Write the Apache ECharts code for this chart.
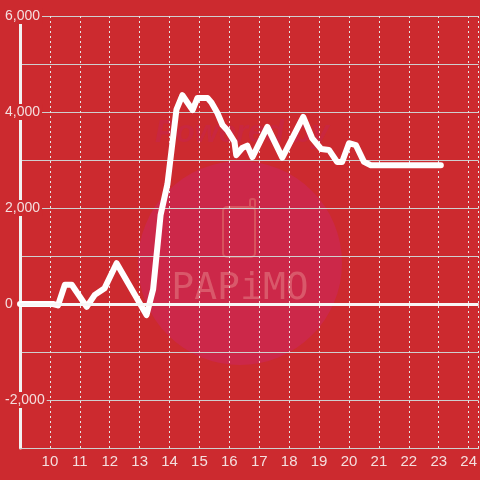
<!DOCTYPE html>
<html>
<head>
<meta charset="utf-8">
<script src="https://cdn.jsdelivr.net/npm/echarts@6/dist/echarts.min.js"></script>
<style>
  html, body { margin: 0; padding: 0; background: #cc2a2f; }
  #chart { width: 480px; height: 480px; }
</style>
</head>
<body>
<div id="chart"></div>
<script>
// time of day (hours) and balance
const hours = [9.0, 10.1, 10.27, 10.5, 10.73, 11.23, 11.5, 11.83, 12.23, 13.23,
  13.45, 13.7, 13.93, 14.23, 14.43, 14.77, 14.93, 15.27, 15.4, 15.6,
  15.77, 15.93, 16.17, 16.23, 16.43, 16.6, 16.77, 17.27, 17.77, 18.47,
  18.77, 19.07, 19.33, 19.6, 19.77, 20.0, 20.23, 20.5, 20.73, 23.07];
const values = [0, 0, -30, 400, 400, -60, 190, 330, 850, -230,
  300, 1850, 2500, 4050, 4350, 4040, 4290, 4290, 4200, 3980,
  3730, 3620, 3380, 3100, 3250, 3300, 3060, 3690, 3050, 3900,
  3450, 3230, 3210, 2960, 2960, 3350, 3310, 2960, 2890, 2890];
const yTicks = [-2000, 0, 2000, 4000, 6000];

const bg = '#cc2a2f';
const myChart = echarts.init(document.getElementById('chart'));

const option = {
  backgroundColor: bg,
  animation: false,
  grid: { left: 20, right: 0, top: 16, bottom: 32 },
  graphic: [
    { type: 'circle', z: -1, shape: { cx: 240, cy: 263, r: 102 }, style: { fill: '#cc2849' } },
    {
      type: 'text', z: -1, x: 242, y: 133,
      style: {
        text: 'Powered by', fill: '#c9273f', font: 'italic bold 31px "Liberation Sans"',
        textAlign: 'center', textVerticalAlign: 'middle'
      }
    },
    {
      type: 'rect', z: -1, shape: { x: 223, y: 207, width: 32, height: 50, r: 4 },
      style: { fill: 'none', stroke: '#d8525e', lineWidth: 2 }
    },
    {
      type: 'rect', z: -1, shape: { x: 250, y: 199, width: 5, height: 9, r: 2 },
      style: { fill: 'none', stroke: '#d8525e', lineWidth: 2 }
    },
    {
      type: 'text', z: -1, x: 240, y: 289,
      style: {
        text: 'PAPiMO', fill: '#d9586a', font: '38px "DejaVu Sans Mono"',
        textAlign: 'center', textVerticalAlign: 'middle'
      }
    }
  ],
  xAxis: {
    type: 'value',
    min: 9,
    max: 24.3333,
    interval: 1,
    axisLine: { onZero: false, lineStyle: { color: '#cfcfcf', width: 1 } },
    axisTick: { show: false },
    axisLabel: {
      color: '#f4dede', fontSize: 15, fontFamily: 'Liberation Sans', margin: 6,
      showMaxLabel: false,
      formatter: v => (v === 9 ? '' : String(v))
    },
    splitLine: { show: true, lineStyle: { color: '#e6e6e6', type: [2, 3], width: 1 } }
  },
  yAxis: {
    type: 'value',
    min: -3000,
    max: 6000,
    interval: 1000,
    axisLine: { show: true, onZero: false, lineStyle: { color: '#f2f2f2', width: 3 } },
    axisTick: { show: false },
    axisLabel: {
      color: '#f4dede', fontSize: 14, fontFamily: 'Liberation Sans',
      align: 'left', margin: 15,
      backgroundColor: bg, padding: [1, 2, 1, 0],
      formatter: v => (yTicks.includes(v) ? v.toLocaleString('en-US') : '')
    },
    splitLine: { show: true, lineStyle: { color: '#cfcfcf', width: 1 } }
  },
  series: [
    {
      type: 'line',
      data: hours.map((h, i) => [h, values[i]]),
      symbol: 'none',
      lineStyle: { color: '#ffffff', width: 6, cap: 'round', join: 'round' },
      markLine: {
        silent: true,
        symbol: 'none',
        label: { show: false },
        lineStyle: { color: '#f7f7f7', width: 3, type: 'solid' },
        data: [{ yAxis: 0 }]
      }
    }
  ]
};

myChart.setOption(option);
</script>
</body>
</html>
